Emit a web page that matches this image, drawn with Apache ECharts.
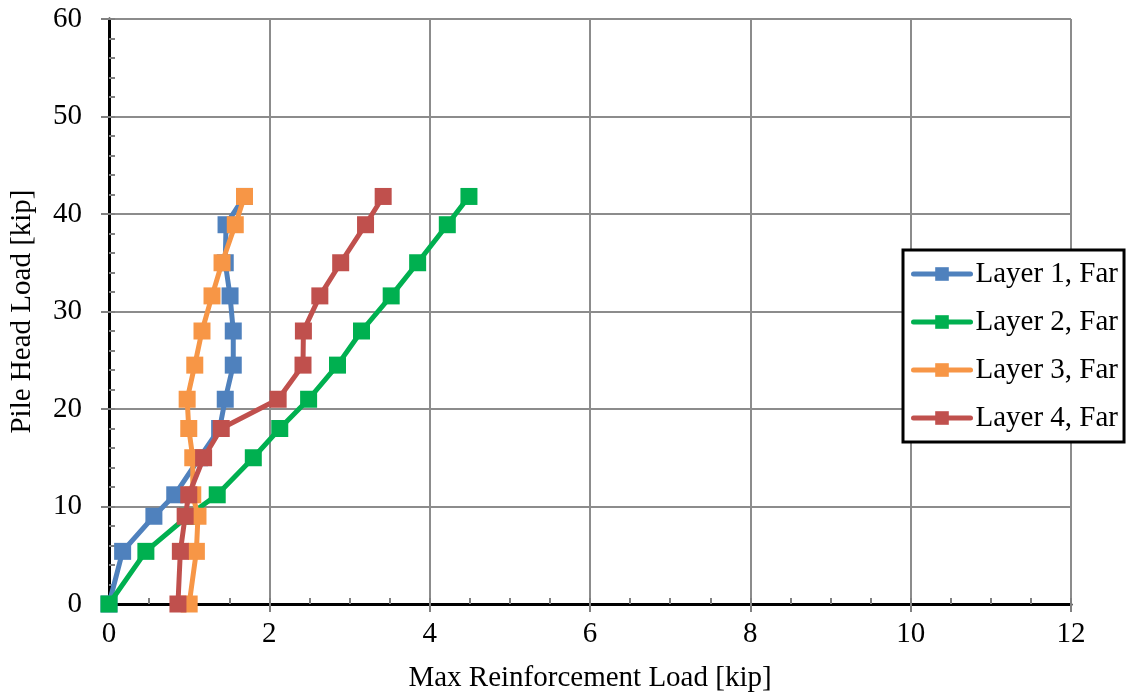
<!DOCTYPE html>
<html><head><meta charset="utf-8">
<script src="https://cdn.jsdelivr.net/npm/echarts@6/dist/echarts.min.js"></script>
<style>html,body{margin:0;padding:0;background:#fff}#c{width:1133px;height:698px}</style>
</head><body><div id="c"></div>
<script>
const pileHeadLoad = [0, 5.4, 9.0, 11.2, 15.0, 18.0, 21.0, 24.5, 28.0, 31.6, 35.0, 38.9, 41.8];
const layer1Far = [0, 0.17, 0.56, 0.82, 1.13, 1.38, 1.45, 1.55, 1.55, 1.51, 1.45, 1.46, 1.69];
const layer2Far = [0, 0.46, 0.98, 1.35, 1.80, 2.13, 2.49, 2.85, 3.15, 3.52, 3.85, 4.22, 4.49];
const layer3Far = [1.00, 1.09, 1.11, 1.045, 1.045, 0.995, 0.975, 1.07, 1.16, 1.285, 1.41, 1.575, 1.69];
const layer4Far = [0.86, 0.89, 0.95, 0.995, 1.18, 1.40, 2.11, 2.42, 2.425, 2.63, 2.89, 3.20, 3.42];
const seriesNames = ['Layer 1, Far', 'Layer 2, Far', 'Layer 3, Far', 'Layer 4, Far'];
const seriesColors = ['#4F81BD', '#00B050', '#F79646', '#C0504D'];
const xTitle = 'Max Reinforcement Load [kip]';
const yTitle = 'Pile Head Load [kip]';

const FONT = '"Liberation Serif", "DejaVu Serif", serif';
const FS = 29;
const allX = [layer1Far, layer2Far, layer3Far, layer4Far];
const chart = echarts.init(document.getElementById('c'), null, {renderer: 'canvas'});
const grid = {left: 106, right: 62, top: 19, bottom: 92, containLabel: false};
const hidden = {axisLabel: {show: false}, axisTick: {show: false}, splitLine: {show: false}};
chart.setOption({
  animation: false,
  backgroundColor: '#fff',
  grid: grid,
  textStyle: {fontFamily: FONT},
  legend: {
    orient: 'vertical', left: 903, top: 250,
    backgroundColor: '#fff', borderColor: '#000', borderWidth: 3,
    padding: [9, 6, 9, 8], itemGap: 18, itemWidth: 57, itemHeight: 17,
    lineStyle: {width: 5, cap: 'round'},
    textStyle: {fontFamily: FONT, fontSize: FS, color: '#000', lineHeight: 30},
    data: seriesNames
  },
  xAxis: [
    {type: 'value', position: 'bottom', min: 0, max: 12, interval: 2,
      axisLine: {show: true, onZero: false, lineStyle: {color: '#808080', width: 3}},
      axisTick: {show: true, inside: true, length: 6, lineStyle: {color: '#808080', width: 2}},
      minorTick: {show: true, splitNumber: 4, length: 6, lineStyle: {color: '#808080', width: 2}},
      axisLabel: {fontFamily: FONT, fontSize: FS, color: '#000', margin: 16},
      splitLine: {show: true, lineStyle: {color: '#8c8c8c', width: 2}},
      name: xTitle, nameLocation: 'middle', nameGap: 60,
      nameTextStyle: {fontFamily: FONT, fontSize: FS, color: '#000'}},
    Object.assign({type: 'value', position: 'bottom', min: 0, max: 12, interval: 2,
      axisLine: {show: false}}, hidden, {axisTick: {show: true, inside: false, length: 8, lineStyle: {color: '#808080', width: 2}}}),
    Object.assign({type: 'value', position: 'top', min: 0, max: 12, interval: 2,
      axisLine: {show: true, lineStyle: {color: '#000', width: 3}}}, hidden)
  ],
  yAxis: [
    {type: 'value', position: 'left', min: 0, max: 60, interval: 10,
      axisLine: {show: true, onZero: false, lineStyle: {color: '#808080', width: 3}},
      axisTick: {show: true, inside: true, length: 6, lineStyle: {color: '#808080', width: 2}},
      minorTick: {show: true, splitNumber: 5, length: 6, lineStyle: {color: '#808080', width: 2}},
      axisLabel: {fontFamily: FONT, fontSize: FS, color: '#000', margin: 27},
      splitLine: {show: true, lineStyle: {color: '#8c8c8c', width: 2}},
      name: yTitle, nameLocation: 'middle', nameGap: 72, nameRotate: 90,
      nameTextStyle: {fontFamily: FONT, fontSize: FS, color: '#000'}},
    Object.assign({type: 'value', position: 'left', min: 0, max: 60, interval: 10,
      axisLine: {show: false}}, hidden, {axisTick: {show: true, inside: false, length: 8, lineStyle: {color: '#808080', width: 2}}}),
    Object.assign({type: 'value', position: 'right', min: 0, max: 60, interval: 10,
      axisLine: {show: true, lineStyle: {color: '#000', width: 3}}}, hidden)
  ],
  series: seriesNames.map((n, i) => ({
    name: n, type: 'line', xAxisIndex: 0, yAxisIndex: 0,
    data: allX[i].map((x, k) => [x, pileHeadLoad[k]]),
    symbol: 'rect', symbolSize: 17, showSymbol: true,
    lineStyle: {color: seriesColors[i], width: 5},
    itemStyle: {color: seriesColors[i]},
    z: 3 + i
  }))
});
</script></body></html>
